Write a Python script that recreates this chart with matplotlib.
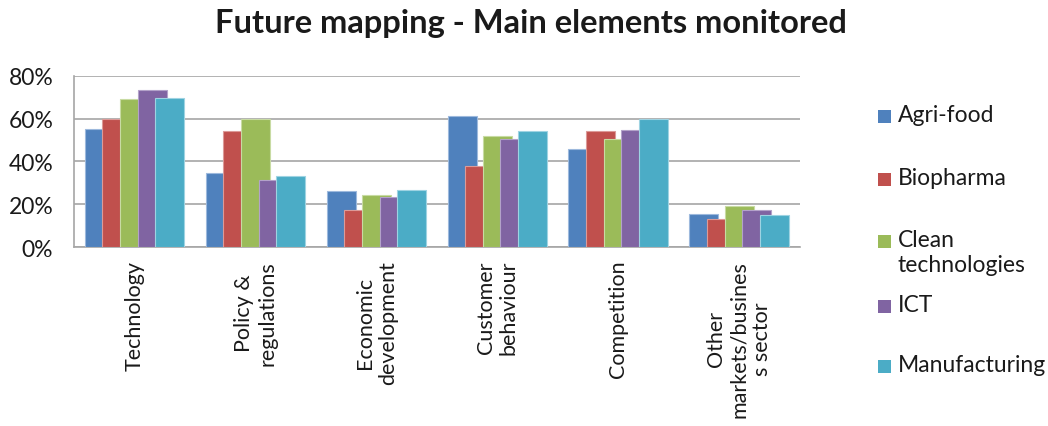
import numpy as np
import matplotlib
matplotlib.use("Agg")
import matplotlib.pyplot as plt
from matplotlib.patches import Rectangle
from matplotlib.ticker import PercentFormatter

plt.rcParams['font.family'] = ['Lato', 'DejaVu Sans']

categories = ["Technology", "Policy &\nregulations", "Economic\ndevelopment",
              "Customer\nbehaviour", "Competition", "Other\nmarkets/busines\ns sector"]
series_names = ["Agri-food", "Biopharma", "Clean\ntechnologies", "ICT", "Manufacturing"]
agri_food = [55.1, 34.8, 26.4, 61.2, 45.8, 15.4]
biopharma = [60.0, 54.2, 17.4, 38.1, 54.2, 13.2]
clean_tech = [69.0, 60.0, 24.2, 51.7, 50.3, 19.3]
ict = [73.5, 31.4, 23.6, 50.3, 54.7, 17.6]
manufacturing = [69.6, 33.1, 26.9, 54.1, 59.8, 14.9]
series_values = [agri_food, biopharma, clean_tech, ict, manufacturing]
colors = ["#4F81BD", "#C0504D", "#9BBB59", "#8064A2", "#4BACC6"]
edge_colors = ["#9DB9DD", "#DC9A98", "#C8DBA3", "#B3A2C9", "#9ED3E2"]

fig = plt.figure(figsize=(10.48, 4.27), dpi=100)
ax = fig.add_axes([0.0706, 0.4185, 0.6925, 0.4019])

x = np.arange(len(categories))
bar_w = 0.24
step = 0.146
offsets = (np.arange(len(series_values)) - 2) * step
for vals, off, c, ec in zip(series_values, offsets, colors, edge_colors):
    ax.bar(x + off, np.array(vals) / 100, width=bar_w, color=c,
           edgecolor=ec, linewidth=0.8, zorder=3)

ax.set_xlim(-0.5, len(categories) - 0.5)
ax.set_ylim(0, 0.8)
ax.set_yticks([0, 0.2, 0.4, 0.6, 0.8])
ax.yaxis.set_major_formatter(PercentFormatter(1.0, decimals=0))
ax.grid(axis='y', color='#A6A6A6', linewidth=1.2, zorder=0)
for s in ['top', 'right']:
    ax.spines[s].set_visible(False)
for s in ['left', 'bottom']:
    ax.spines[s].set_color('#A6A6A6')
    ax.spines[s].set_linewidth(1.2)
ax.tick_params(axis='y', length=0, labelsize=16.5, pad=15, colors='#1a1a1a')
ax.tick_params(axis='x', length=0, pad=9)
ax.set_xticks(x)
ax.set_xticklabels(categories, rotation=90, fontsize=15.5, ha='center',
                   va='top', multialignment='center', color='#1a1a1a')

fig.text(0.507, 0.946, "Future mapping - Main elements monitored",
         ha='center', va='center', fontsize=23.5, fontweight='bold', color='#1a1a1a')

# legend drawn as coloured squares with labels
legend_y = [117, 180, 242, 307, 367]
for name, c, yy in zip(series_names, colors, legend_y):
    yf = 1 - yy / 427
    fig.patches.append(Rectangle((878 / 1048, yf - 6.5 / 427), 13 / 1048, 13 / 427,
                                 transform=fig.transFigure, facecolor=c,
                                 edgecolor='none'))
    fig.text(898 / 1048, yf + 12 / 427, name, ha='left', va='top',
             fontsize=16.5, color='#1a1a1a', linespacing=1.25)

fig.savefig("out.png", dpi=100)
